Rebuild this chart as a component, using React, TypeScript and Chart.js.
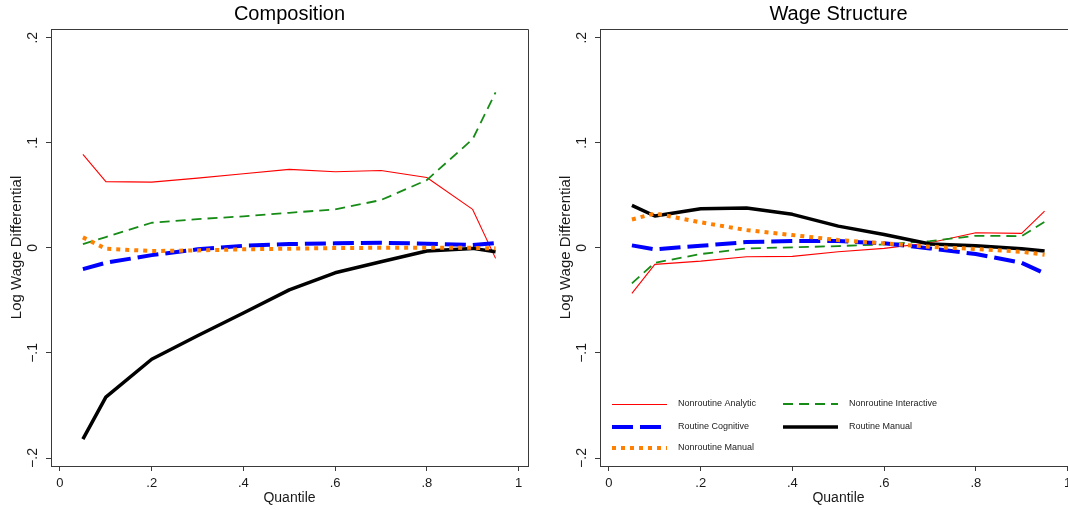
import React, { useEffect, useRef } from "react";
import { Chart, registerables } from "chart.js";

Chart.register(...registerables);

// ---------------- Data ----------------
const quantiles = [0.05, 0.1, 0.2, 0.3, 0.4, 0.5, 0.6, 0.7, 0.8, 0.9, 0.95];

const seriesNames = [
  "Nonroutine Analytic",
  "Nonroutine Interactive",
  "Routine Cognitive",
  "Routine Manual",
  "Nonroutine Manual",
];

// Composition panel
const compNonroutineAnalytic = [0.089, 0.063, 0.0626, 0.0664, 0.0705, 0.0747, 0.0724, 0.0737, 0.067, 0.0366, -0.01];
const compNonroutineInteractive = [0.0036, 0.0103, 0.0239, 0.0274, 0.03, 0.0334, 0.0366, 0.0455, 0.0645, 0.1035, 0.148];
const compRoutineCognitive = [-0.0202, -0.0142, -0.0069, -0.0014, 0.002, 0.0036, 0.0043, 0.0049, 0.004, 0.0027, 0.0046];
const compRoutineManual = [-0.182, -0.142, -0.106, -0.0837, -0.062, -0.04, -0.0237, -0.0132, -0.003, -0.0005, -0.0037];
const compNonroutineManual = [0.01, -0.0008, -0.003, -0.0024, -0.0014, -0.0008, -0.0002, 0.0001, 0.0001, 0.0, -0.0005];

// Wage structure panel
const wageNonroutineAnalytic = [-0.0433, -0.0157, -0.0126, -0.0085, -0.0081, -0.0037, -0.0005, 0.0049, 0.0144, 0.0138, 0.035];
const wageNonroutineInteractive = [-0.0338, -0.0142, -0.0059, -0.0005, 0.0005, 0.0017, 0.0033, 0.0065, 0.0115, 0.0112, 0.0248];
const wageRoutineCognitive = [0.0024, -0.0014, 0.002, 0.0055, 0.0065, 0.0065, 0.0043, -0.0005, -0.0059, -0.0142, -0.0243];
const wageRoutineManual = [0.0404, 0.0303, 0.0372, 0.0379, 0.0319, 0.0207, 0.0128, 0.0036, 0.002, -0.0008, -0.003];
const wageNonroutineManual = [0.027, 0.0328, 0.0243, 0.0169, 0.0122, 0.0074, 0.0043, 0.001, -0.0011, -0.0037, -0.0065];

const xTickValues = [0, 0.2, 0.4, 0.6, 0.8, 1];
const xTickLabels = ["0", ".2", ".4", ".6", ".8", "1"];
const yTickValues = [-0.2, -0.1, 0, 0.1, 0.2];
const yTickLabels = ["\u2212.2", "\u2212.1", "0", ".1", ".2"];

const xAxisTitle = "Quantile";
const yAxisTitle = "Log Wage Differential";

// ---------------- Styles ----------------
const FONT = '"Liberation Sans", Arial, Helvetica, sans-serif';
const AXIS_COLOR = "#3a3a3a";
const TEXT_COLOR = "#1a1a1a";

const seriesStyles = [
  { color: "#ff0000", width: 1.1, dash: [] as number[] },
  { color: "#168c16", width: 1.8, dash: [10, 6] },
  { color: "#0000ff", width: 4, dash: [21, 7] },
  { color: "#000000", width: 3.5, dash: [] as number[] },
  { color: "#ff8000", width: 4, dash: [4, 5] },
];

const X_MIN = -0.0196;
const X_MAX = 1.0207;
const Y_MIN = -0.2076;
const Y_MAX = 0.2083;

function makeDecor(title: string, showLegend: boolean) {
  return {
    id: "panelDecor",
    afterDraw(chart: any) {
      const { ctx, chartArea: a, scales } = chart;
      const xs = scales.x;
      const ys = scales.y;
      ctx.save();
      // frame top and right
      ctx.strokeStyle = AXIS_COLOR;
      ctx.lineWidth = 1;
      ctx.beginPath();
      const t = Math.round(a.top) + 0.5;
      const r = Math.round(a.right) + 0.5;
      ctx.moveTo(a.left, t);
      ctx.lineTo(r, t);
      ctx.lineTo(r, a.bottom + 0.5);
      ctx.stroke();

      ctx.fillStyle = TEXT_COLOR;
      ctx.textAlign = "center";
      ctx.textBaseline = "middle";
      // x tick labels
      ctx.font = `13px ${FONT}`;
      xTickValues.forEach((v, i) => {
        ctx.fillText(xTickLabels[i], xs.getPixelForValue(v), a.bottom + 17);
      });
      // y tick labels (rotated)
      ctx.font = `14px ${FONT}`;
      yTickValues.forEach((v, i) => {
        ctx.save();
        ctx.translate(a.left - 18, ys.getPixelForValue(v));
        ctx.rotate(-Math.PI / 2);
        ctx.fillText(yTickLabels[i], 0, 0);
        ctx.restore();
      });
      // axis titles
      ctx.font = `14px ${FONT}`;
      ctx.fillText(xAxisTitle, (a.left + a.right) / 2, a.bottom + 32);
      ctx.save();
      ctx.translate(a.left - 34, (a.top + a.bottom) / 2);
      ctx.rotate(-Math.PI / 2);
      ctx.font = `15px ${FONT}`;
      ctx.fillText(yAxisTitle, 0, 0);
      ctx.restore();
      // title
      ctx.font = `20px ${FONT}`;
      ctx.fillStyle = "#000";
      ctx.fillText(title, (a.left + a.right) / 2, 14);

      // legend
      if (showLegend) {
        const rowY = [a.bottom - 62, a.bottom - 39, a.bottom - 18];
        const colX = [a.left + 12, a.left + 183];
        ctx.font = `9px ${FONT}`;
        ctx.textAlign = "left";
        ctx.fillStyle = "#222";
        seriesNames.forEach((name, k) => {
          const x = colX[k % 2];
          const y = Math.round(rowY[Math.floor(k / 2)]);
          const st = seriesStyles[k];
          ctx.save();
          ctx.strokeStyle = st.color;
          ctx.lineWidth = st.width;
          ctx.setLineDash(st.dash);
          ctx.lineCap = "butt";
          ctx.beginPath();
          const yy = Math.round(st.width) % 2 === 1 ? y + 0.5 : y;
          ctx.moveTo(x, yy);
          ctx.lineTo(x + 55, yy);
          ctx.stroke();
          ctx.restore();
          ctx.fillText(name, x + 66, y);
        });
      }
      ctx.restore();
    },
  };
}

function axisCommon(axisKey: "x" | "y") {
  const isX = axisKey === "x";
  return {
    type: "linear" as const,
    min: isX ? X_MIN : Y_MIN,
    max: isX ? X_MAX : Y_MAX,
    afterBuildTicks: (s: any) => {
      s.ticks = (isX ? xTickValues : yTickValues).map((v) => ({ value: v }));
    },
    afterFit: (s: any) => {
      if (isX) s.height = 44;
      else s.width = 51;
    },
    ticks: { display: false },
    grid: {
      display: true,
      drawOnChartArea: false,
      drawTicks: true,
      tickLength: 5,
      color: AXIS_COLOR,
      lineWidth: 1,
    },
    border: { display: true, color: AXIS_COLOR, width: 1 },
  };
}

function Panel(props: { title: string; series: number[][]; legend: boolean; left: number }) {
  const ref = useRef<HTMLCanvasElement | null>(null);
  useEffect(() => {
    if (!ref.current) return;
    const chart = new Chart(ref.current, {
      type: "line",
      data: {
        datasets: props.series.map((s, i) => ({
          label: seriesNames[i],
          data: quantiles.map((q, j) => ({ x: q, y: s[j] })),
          borderColor: seriesStyles[i].color,
          backgroundColor: seriesStyles[i].color,
          borderWidth: seriesStyles[i].width,
          borderDash: seriesStyles[i].dash,
          borderCapStyle: "butt",
          borderJoinStyle: "round",
          pointRadius: 0,
          pointHoverRadius: 0,
          tension: 0,
          fill: false,
          order: 10 - i,
        })),
      },
      options: {
        responsive: false,
        animation: false,
        devicePixelRatio: 1,
        events: [],
        layout: { padding: { top: 29, right: 12, left: 0, bottom: 0 } },
        plugins: {
          legend: { display: false },
          title: { display: false },
          tooltip: { enabled: false },
        },
        scales: {
          x: axisCommon("x"),
          y: axisCommon("y"),
        },
      } as any,
      plugins: [makeDecor(props.title, props.legend)],
    });
    return () => chart.destroy();
  }, []);
  return (
    <canvas
      ref={ref}
      width={540}
      height={510}
      style={{ position: "absolute", left: props.left, top: 0, width: 540, height: 510 }}
    />
  );
}

export default function App() {
  return (
    <div
      style={{
        position: "fixed",
        left: 0,
        top: 0,
        width: 1068,
        height: 510,
        overflow: "hidden",
        background: "#fff",
      }}
    >
      <Panel
        title="Composition"
        legend={false}
        left={0}
        series={[
          compNonroutineAnalytic,
          compNonroutineInteractive,
          compRoutineCognitive,
          compRoutineManual,
          compNonroutineManual,
        ]}
      />
      <Panel
        title="Wage Structure"
        legend={true}
        left={549}
        series={[
          wageNonroutineAnalytic,
          wageNonroutineInteractive,
          wageRoutineCognitive,
          wageRoutineManual,
          wageNonroutineManual,
        ]}
      />
    </div>
  );
}
